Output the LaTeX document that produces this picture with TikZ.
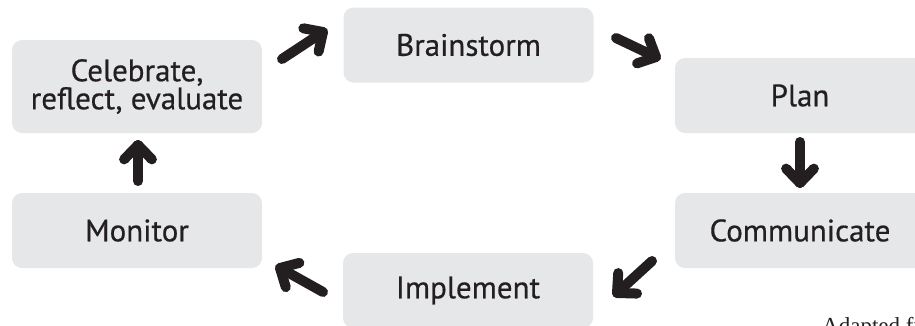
\documentclass[tikz,border=0pt]{standalone}
\usepackage{fontspec}
\setmainfont{PT Sans}[FakeBold=0.5]
\newfontfamily\notefont{Liberation Serif}
\usetikzlibrary{calc}
\definecolor{boxgray}{HTML}{E6E7E8}
\definecolor{ink}{HTML}{231F20}
\tikzset{
  stage/.style={fill=boxgray, rounded corners=10pt, minimum width=250pt,
    minimum height=75pt, inner sep=0pt, align=center, text=ink,
    font=\fontsize{31}{28}\selectfont},
  fat/.style={draw=ink, line width=10pt, line cap=round, line join=round}
}
% thick arrow with a chevron head: \fatarrow{tail}{tip}
\newcommand\fatarrow[2]{%
  \draw[fat] (#1) -- (#2);
  \draw[fat] ($(#2)!20pt!44:(#1)$) -- (#2) -- ($(#2)!20pt!-44:(#1)$);
}
\begin{document}
\begin{tikzpicture}[x=1pt,y=-1pt]
\useasboundingbox (0,0) rectangle (915,325);
\clip (0,0) rectangle (915,325);

\node[stage, minimum height=93pt] (cel) at (137,86.5) {Celebrate,\\reflect, evaluate};
\node[stage] (brain) at (468.5,45) {Brainstorm};
\node[stage] (plan) at (800,95.5) {Plan};
\node[stage] (comm) at (800,230.5) {Communicate};
\node[stage] (impl) at (468,290.5) {Implement};
\node[stage] (mon) at (137,230.5) {Monitor};

\coordinate (a1s) at (282,59);  \coordinate (a1e) at (323,32);
\coordinate (a2s) at (616,38);  \coordinate (a2e) at (656,57);
\coordinate (a3s) at (800,142); \coordinate (a3e) at (800,183);
\coordinate (a4s) at (652,261); \coordinate (a4e) at (617,293);
\coordinate (a5s) at (323,292); \coordinate (a5e) at (280,268);
\coordinate (a6s) at (138,181); \coordinate (a6e) at (138,145);

\fatarrow{a1s}{a1e}
\fatarrow{a2s}{a2e}
\fatarrow{a3s}{a3e}
\fatarrow{a4s}{a4e}
\fatarrow{a5s}{a5e}
\fatarrow{a6s}{a6e}

\node[anchor=base west, inner sep=0pt, text=ink, font=\notefont\fontsize{23}{26}\selectfont]
  (note) at (822,333) {Adapted from};
\end{tikzpicture}
\end{document}
